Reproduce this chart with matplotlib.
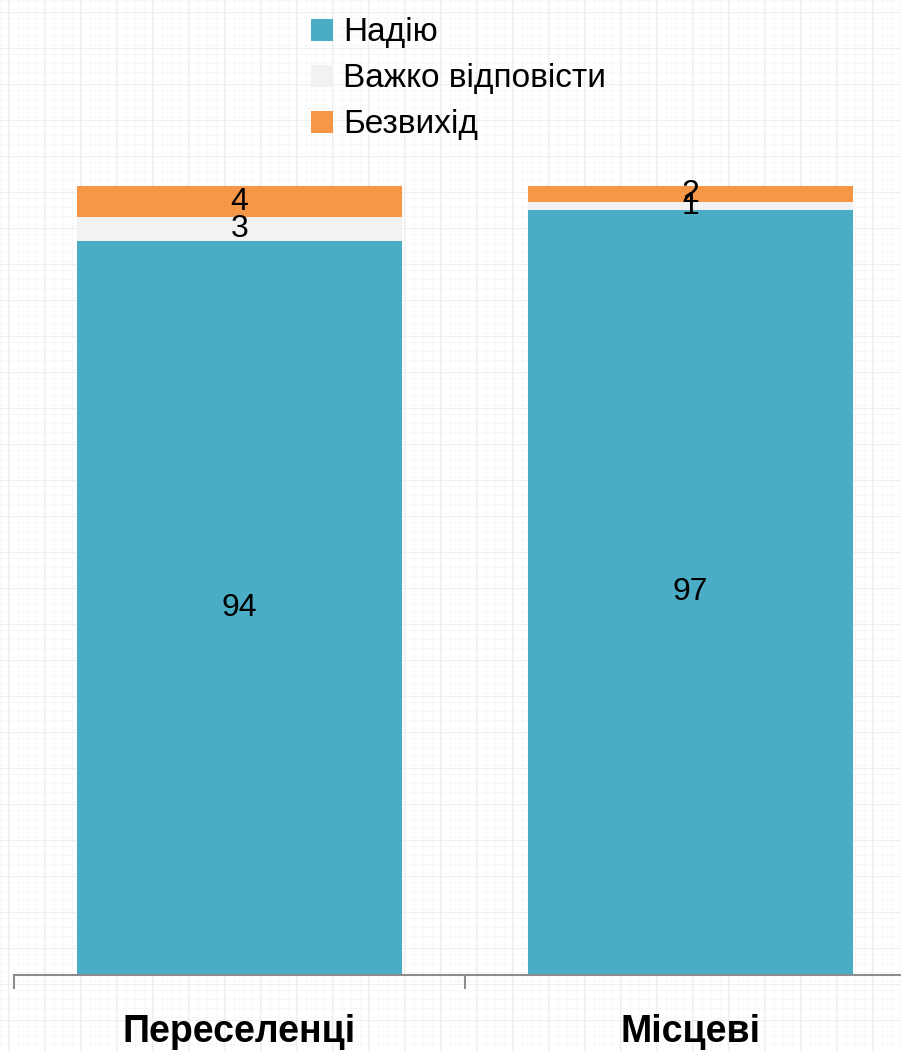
import matplotlib
matplotlib.use("Agg")
import matplotlib.pyplot as plt
import numpy as np

# дані
categories = ["Переселенці", "Місцеві"]
series_names = ["Надію", "Важко відповісти", "Безвихід"]
hope = [94, 97]
hard = [3, 1]
despair = [4, 2]
colors = ["#4BACC6", "#F2F2F2", "#F79646"]

plt.rcParams['font.family'] = ['Liberation Sans', 'DejaVu Sans']

fig = plt.figure(figsize=(9.01, 10.51), dpi=100)
fig.patch.set_facecolor("white")

# фон "папір у клітинку"
bg = fig.add_axes([0, 0, 1, 1], zorder=-10)
bg.set_xlim(0, 901)
bg.set_ylim(1051, 0)
for v in np.arange(0, 901, 9):
    bg.axvline(v, color="#f7f7f7", lw=0.6)
for h in np.arange(0, 1051, 9):
    bg.axhline(h, color="#f7f7f7", lw=0.6)
for v in np.arange(8, 901, 36):
    bg.axvline(v, color="#eeeeee", lw=0.8)
for h in np.arange(12, 1051, 36):
    bg.axhline(h, color="#eeeeee", lw=0.8)
bg.axis("off")

ax = fig.add_axes([14 / 901, 76 / 1051, 902 / 901, 789 / 1051])
ax.patch.set_alpha(0)

data = np.array([hope, hard, despair], dtype=float)
totals = data.sum(axis=0)
pct = data / totals * 100

x = np.arange(len(categories))
bottom = np.zeros(len(categories))
handles = []
for i, name in enumerate(series_names):
    bars = ax.bar(x, pct[i], 0.72, bottom=bottom, color=colors[i], label=name)
    handles.append(bars)
    for j in range(len(categories)):
        ax.text(x[j], bottom[j] + pct[i][j] / 2, str(int(data[i][j])),
                ha="center", va="center", fontsize=23, color="black")
    bottom += pct[i]

ax.set_xlim(-0.5, 1.5)
ax.set_ylim(0, 100)
for s in ["left", "right", "top"]:
    ax.spines[s].set_visible(False)
ax.spines["bottom"].set_color("#8c8c8c")
ax.spines["bottom"].set_linewidth(1.5)
ax.set_yticks([])
ax.set_xticks([-0.5, 0.5, 1.5])
ax.set_xticklabels([])
ax.tick_params(axis="x", which="major", length=10, width=1.5, color="#8c8c8c")
ax.set_xticks(x, minor=True)
ax.set_xticklabels(categories, minor=True, fontsize=27, fontweight="bold")
ax.tick_params(axis="x", which="minor", length=0, pad=28)

fig.legend(handles=handles, labels=series_names, loc="upper left",
           bbox_to_anchor=(298 / 901, 1 - 4 / 1051), frameon=False,
           fontsize=24, handlelength=0.65, handleheight=0.65,
           handletextpad=0.3, labelspacing=0.45, borderaxespad=0)

fig.savefig("out.png", dpi=100, facecolor="white")
